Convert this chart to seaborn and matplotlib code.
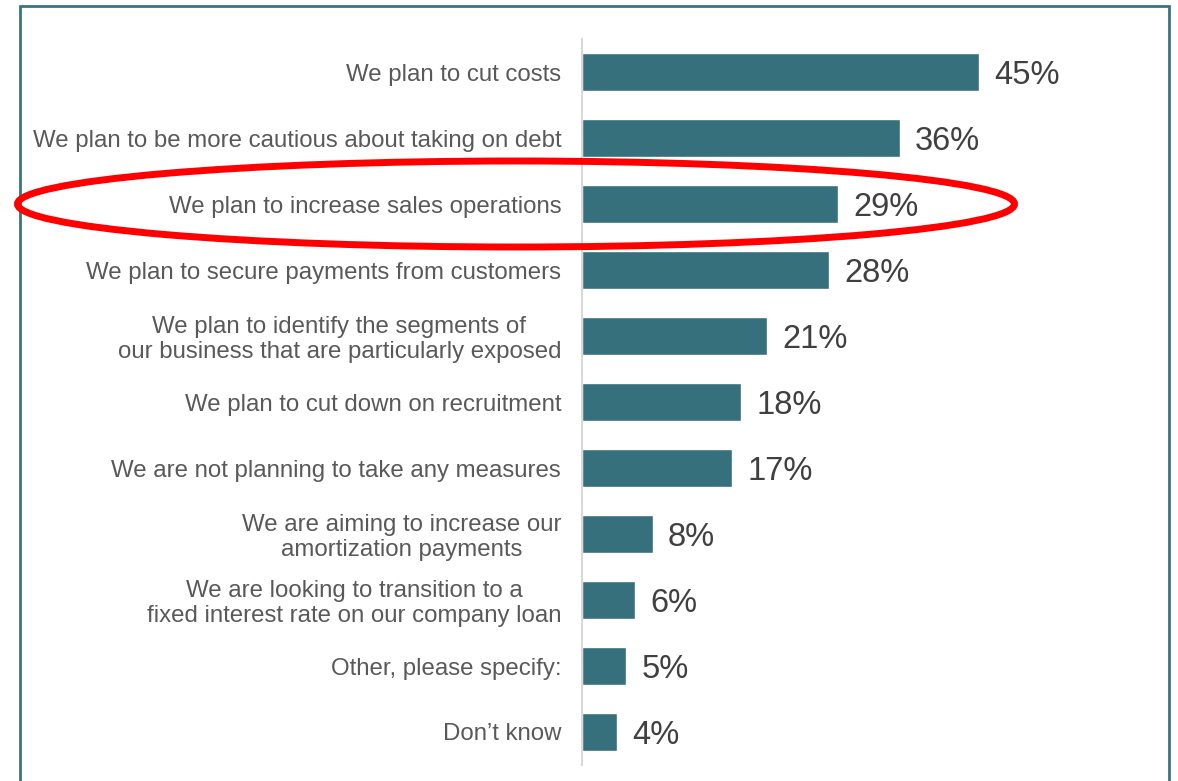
import matplotlib
matplotlib.use("Agg")
import matplotlib.pyplot as plt
from matplotlib.patches import Ellipse, Rectangle
import seaborn as sns
import pandas as pd

# Survey responses: planned measures and share of respondents (%)
measures = [
    "We plan to cut costs",
    "We plan to be more cautious about taking on debt",
    "We plan to increase sales operations",
    "We plan to secure payments from customers",
    "We plan to identify the segments of\nour business that are particularly exposed",
    "We plan to cut down on recruitment",
    "We are not planning to take any measures",
    "We are aiming to increase our\namortization payments",
    "We are looking to transition to a\nfixed interest rate on our company loan",
    "Other, please specify:",
    "Don\u2019t know",
]
shares = [45, 36, 29, 28, 21, 18, 17, 8, 6, 5, 4]
value_labels = [f"{v}%" for v in shares]

df = pd.DataFrame({"measure": measures, "share": shares})

sns.set_theme(style="white")
plt.rcParams["font.family"] = ["Liberation Sans", "DejaVu Sans"]

W, H = 1178, 781
fig = plt.figure(figsize=(W / 100, H / 100), dpi=100)
fig.patch.set_facecolor("white")

ax_left = 582 / W
ax_bottom = 1 - 765 / H
ax_top = 1 - 39 / H
ax = fig.add_axes([ax_left, ax_bottom, 1 - ax_left - 0.06, ax_top - ax_bottom])

bar_color = "#36707c"
sns.barplot(data=df, x="share", y="measure", orient="h", color=bar_color,
            width=0.58, saturation=1, ax=ax)

ax.set_xlim(0, 59.5)
ax.set_ylim(len(measures) - 0.5, -0.5)
ax.set_xlabel("")
ax.set_ylabel("")
ax.set_xticks([])
ax.tick_params(axis="y", length=0, pad=15)
for lbl in ax.get_yticklabels():
    lbl.set_fontsize(17.3)
    lbl.set_color("#595959")
    lbl.set_multialignment("center")
    lbl.set_linespacing(1.12)

for side in ["top", "right", "bottom"]:
    ax.spines[side].set_visible(False)
ax.spines["left"].set_color("#d9d9d9")
ax.spines["left"].set_linewidth(1.5)

for i, (v, txt) in enumerate(zip(shares, value_labels)):
    ax.annotate(txt, xy=(v, i), xytext=(11, -2.5), textcoords="offset points",
                ha="left", va="center", fontsize=23.5, color="#404040")

# Frame around the chart
frame = Rectangle((20 / W, -0.05), (1169 - 20) / W, 1 - 6 / H + 0.05,
                  transform=fig.transFigure, fill=False,
                  edgecolor="#3a7480", linewidth=2, clip_on=False)
fig.patches.append(frame)

# Highlight around the sales operations row
highlight = Ellipse((516 / W, 1 - 204 / H), 997 / W, 86 / H,
                    transform=fig.transFigure, fill=False,
                    edgecolor="#ff0000", linewidth=5, zorder=10)
fig.patches.append(highlight)

fig.savefig("out.png", dpi=100, facecolor="white")
